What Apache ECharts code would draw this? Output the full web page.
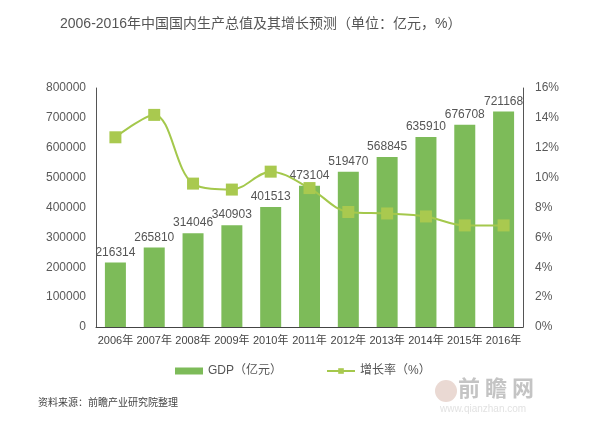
<!DOCTYPE html>
<html><head><meta charset="utf-8">
<script src="https://cdn.jsdelivr.net/npm/echarts@6/dist/echarts.min.js"></script>
<style>html,body{margin:0;padding:0;background:#fff}#c{width:600px;height:426px}</style>
</head><body><div id="c"></div>
<script>
const categories = ['2006年','2007年','2008年','2009年','2010年','2011年','2012年','2013年','2014年','2015年','2016年'];
const gdp = [216314,265810,314046,340903,401513,473104,519470,568845,635910,676708,721168];
const growth = [12.7,14.2,9.6,9.2,10.4,9.3,7.7,7.6,7.4,6.8,6.8];
const titleText = '2006-2016年中国国内生产总值及其增长预测（单位：亿元，%）';
const sourceText = '资料来源：前瞻产业研究院整理';

const chart = echarts.init(document.getElementById('c'));
const font = '"Liberation Sans", "Noto Sans CJK SC", sans-serif';
chart.setOption({
  animation:false,
  textStyle:{fontFamily:font},
  title:{text:titleText,left:55,top:12,textStyle:{fontSize:14,fontWeight:'normal',color:'#555',fontFamily:font}},
  grid:{left:96,right:77,top:88,bottom:99},
  legend:{bottom:44,left:170,itemGap:44,itemWidth:28,itemHeight:7,textStyle:{fontSize:12,color:'#555'},
    data:[{name:'GDP（亿元）',icon:'rect'},{name:'增长率（%）'}]},
  xAxis:{type:'category',data:categories,
    axisLine:{lineStyle:{color:'#444'}},axisTick:{show:false},
    axisLabel:{fontSize:11,color:'#444',margin:8,interval:0}},
  yAxis:[
    {type:'value',min:0,max:800000,interval:100000,
     axisLine:{show:true,lineStyle:{color:'#555'}},axisTick:{show:false},splitLine:{show:false},
     axisLabel:{fontSize:12,color:'#595959',margin:10,formatter:v=>String(v)}},
    {type:'value',min:0,max:16,interval:2,
     axisLine:{show:true,lineStyle:{color:'#555'}},axisTick:{show:false},splitLine:{show:false},
     axisLabel:{fontSize:12,color:'#595959',margin:12,formatter:'{value}%'}}
  ],
  series:[
    {name:'GDP（亿元）',type:'bar',data:gdp,barWidth:21,
     itemStyle:{color:'#7dbb59'},
     label:{show:true,position:'top',fontSize:12,color:'#555',distance:4}},
    {name:'增长率（%）',type:'line',yAxisIndex:1,data:growth,smooth:0.35,
     symbol:'rect',symbolSize:12,
     lineStyle:{color:'#a4c84c',width:2},itemStyle:{color:'#a9c94f'}}
  ],
  graphic:[
    {type:'text',left:38,top:397,style:{text:sourceText,fontSize:10,fill:'#444',fontFamily:'"Noto Sans CJK SC", sans-serif'}},
    {type:'text',left:458,top:377,style:{text:'前 瞻 网',fontSize:22,fontWeight:'bold',fill:'#c4c4c4',fontFamily:'"Noto Sans CJK SC", sans-serif'}},
    {type:'text',left:440,top:404,style:{text:'www.qianzhan.com',fontSize:10,fill:'#e2e2e2',fontFamily:font}},
    {type:'circle',shape:{cx:446,cy:391,r:11},style:{fill:'#ead9d3'}}
  ]
});
</script></body></html>
